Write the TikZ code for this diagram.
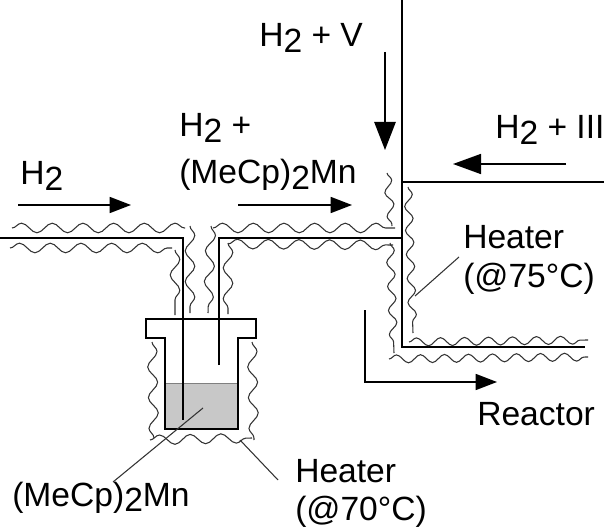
\documentclass[tikz,border=0pt]{standalone}
\usepackage{fontspec}
\setmainfont{Liberation Sans}
\usetikzlibrary{arrows.meta,decorations.pathmorphing}
\definecolor{mygray}{RGB}{200,200,200}
\newcommand{\two}{\raisebox{-0.17em}{2}}
\begin{document}
\begin{tikzpicture}[x=0.75pt,y=-0.75pt,>={Triangle[length=16pt,width=12pt]}]
 \tikzstyle{every node}=[inner sep=0pt,anchor=base west,font=\fontsize{25.2}{28}\selectfont]
 \tikzstyle{wall}=[line width=2.2pt]
 \tikzstyle{flow}=[->,line width=1.2pt]
 \tikzstyle{leader}=[line width=0.8pt,black!80]
 \tikzstyle{heater}=[line width=0.8pt,black!80,decorate,decoration={snake,segment length=23pt,amplitude=3.6pt}]
 \tikzstyle{heaterb}=[heater,decoration={snake,segment length=18pt,amplitude=3pt}]

   \useasboundingbox (0,0) rectangle (606,527);

   % labels
   \node (h2) at (20,185) {H\two};
   \node (h2mn) at (179,137) {H\two{} +};
   \node (mecp) at (179,184) {(MeCp)\two Mn};
   \node (h2v) at (259,47) {H\two{} + V};
   \node (h2iii) at (495,139) {H\two{} + III};
   \node (heatA) at (463,248) {Heater};
   \node (heatAt) at (463,287) {(@75°C)};
   \node (reactor) at (477,425) {Reactor};
   \node (heatB) at (295,482) {Heater};
   \node (heatBt) at (295,520) {(@70°C)};
   \node (source) at (12,506) {(MeCp)\two Mn};

   % liquid and bubbler
   \fill[mygray] (165,383) rectangle (238,429);
   \draw[line width=0.7pt,black!50] (165,383) -- (238,383);
   \draw[wall] (165,338) -- (146,338) -- (146,319) -- (256,319) -- (256,338) -- (238,338) -- (238,429) -- (165,429) -- cycle;

   % tubes
   \draw[wall] (0,238) -- (183,238) -- (183,420);
   \draw[wall] (219,365) -- (219,238) -- (402,238);
   \draw[wall] (402,0) -- (402,347) -- (585,347);
   \draw[wall] (402,182) -- (604,182);

   % heaters, inlet side
   \draw[heater] (12,228) -- (185,228);
   \draw[heater] (10,248) -- (172,248);
   \draw[heater] (190,226) -- (190,313);
   \draw[heater] (175,250) -- (175,315);
   \draw[heater] (211,226) -- (208,313);
   \draw[heater] (228,243) -- (228,314);
   \draw[heater] (213,228) -- (395,228);
   \draw[heater] (228,244) -- (393,245);

   % heaters, main line
   \draw[heaterb] (387,173) -- (392,226);
   \draw[heaterb] (390,243) -- (394,353);
   \draw[heaterb] (408,187) -- (413,333);
   \draw[heaterb] (409,342) -- (588,340);
   \draw[heaterb] (389,359) -- (588,357);

   % heaters, bubbler
   \draw[heater] (152,342) -- (154,438);
   \draw[heater] (252,342) -- (254,440);
   \draw[heater] (150,440) -- (252,438);

   % flow arrows
   \draw[flow] (18,205) -- (131,205);
   \draw[flow] (238,205) -- (352,205);
   \draw[flow,>={Triangle[length=21pt,width=16pt]}] (385,52) -- (385,150);
   \draw[flow,>={Triangle[length=21pt,width=15pt]}] (566,164) -- (453,164);
   \draw[flow] (365,310) -- (365,382) -- (497,382);

   % leaders
   \draw[leader] (203,408) -- (113,482);
   \draw[leader] (240,440) -- (278,480);
   \draw[leader] (459,257) -- (415,296);

\end{tikzpicture}
\end{document}
